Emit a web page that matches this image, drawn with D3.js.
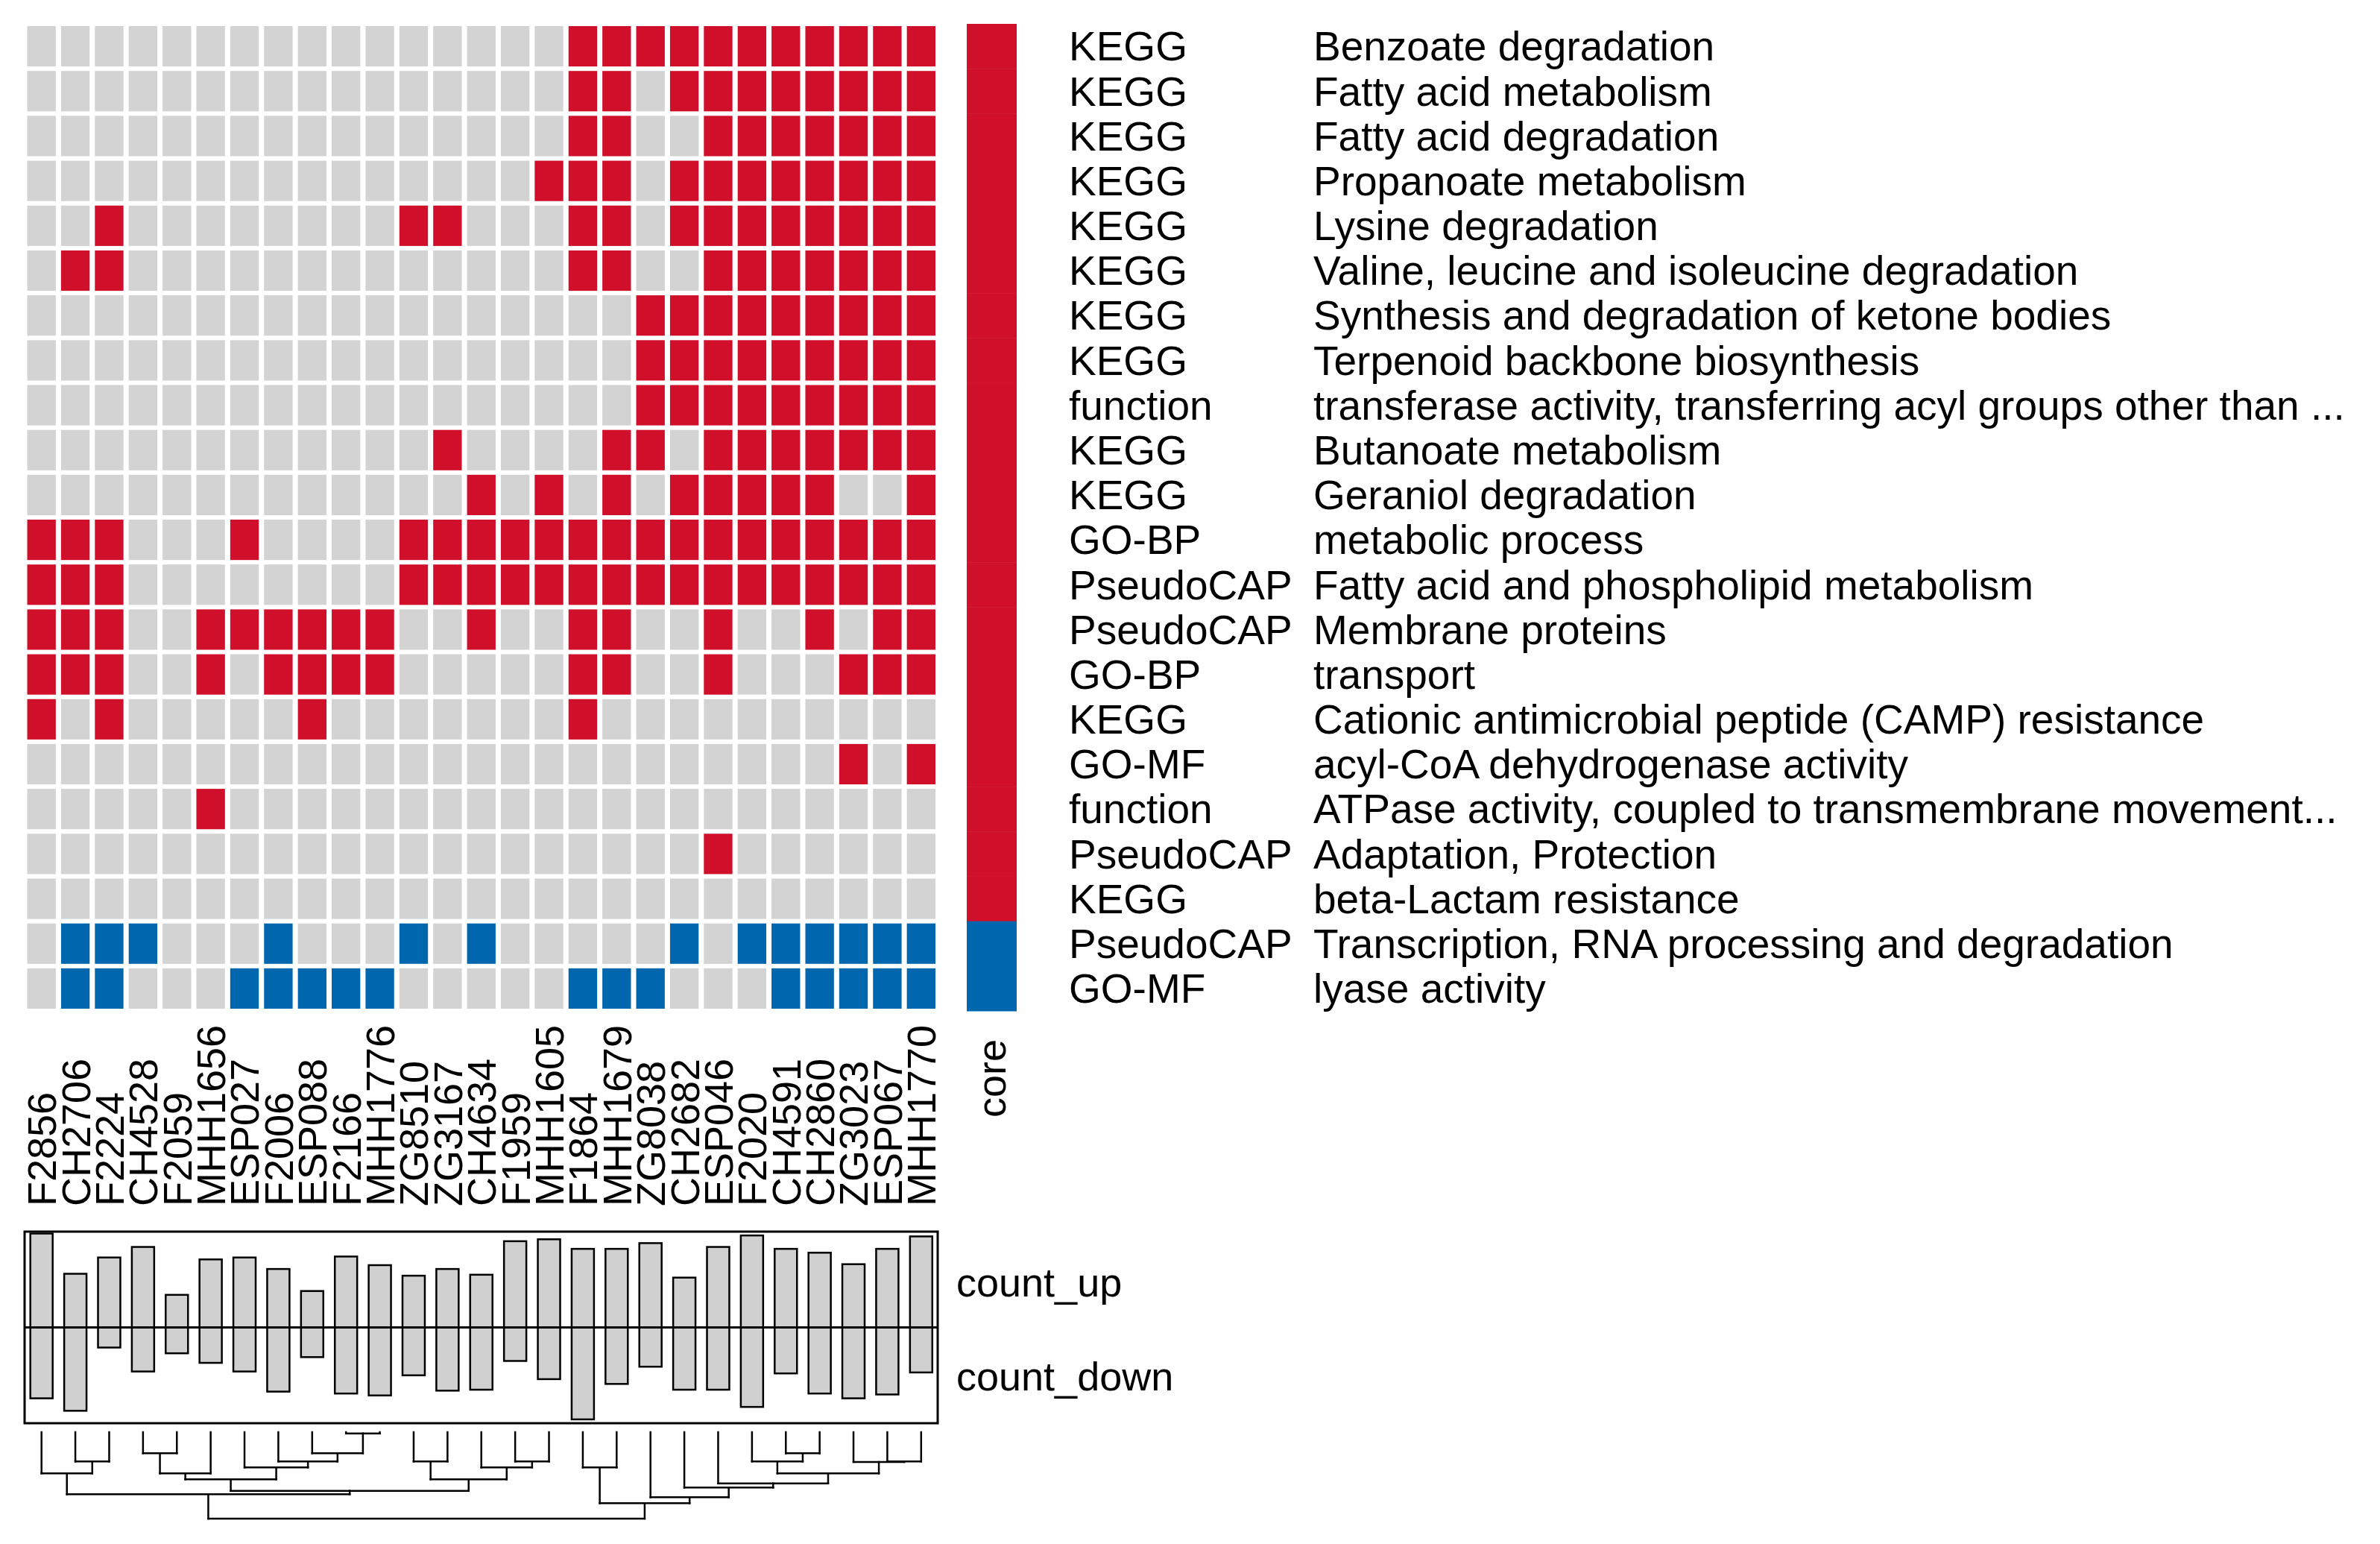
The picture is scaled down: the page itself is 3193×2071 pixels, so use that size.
<!DOCTYPE html>
<html>
<head>
<meta charset="utf-8">
<script src="https://cdn.jsdelivr.net/npm/d3@7"></script>
<style>
  html, body { margin: 0; padding: 0; background: #fff; }
  svg { display: block; }
  text { font-family: "Liberation Sans", Arial, Helvetica, sans-serif; fill: #000; }
</style>
</head>
<body>
<script>
// ---------------- DATA ----------------
const columns = ["F2856","CH2706","F2224","CH4528","F2059","MHH1656","ESP027","F2006","ESP088","F2166",
  "MHH1776","ZG8510","ZG3167","CH4634","F1959","MHH1605","F1864","MHH1679","ZG8038","CH2682",
  "ESP046","F2020","CH4591","CH2860","ZG3023","ESP067","MHH1770"];

const rowTypes = ["KEGG","KEGG","KEGG","KEGG","KEGG","KEGG","KEGG","KEGG","function","KEGG","KEGG",
  "GO-BP","PseudoCAP","PseudoCAP","GO-BP","KEGG","GO-MF","function","PseudoCAP","KEGG","PseudoCAP","GO-MF"];

const rowTerms = ["Benzoate degradation","Fatty acid metabolism","Fatty acid degradation","Propanoate metabolism",
  "Lysine degradation","Valine, leucine and isoleucine degradation","Synthesis and degradation of ketone bodies",
  "Terpenoid backbone biosynthesis","transferase activity, transferring acyl groups other than ...",
  "Butanoate metabolism","Geraniol degradation","metabolic process","Fatty acid and phospholipid metabolism",
  "Membrane proteins","transport","Cationic antimicrobial peptide (CAMP) resistance","acyl-CoA dehydrogenase activity",
  "ATPase activity, coupled to transmembrane movement...","Adaptation, Protection","beta-Lactam resistance",
  "Transcription, RNA processing and degradation","lyase activity"];

// core direction of each term
const coreStatus = ["up","up","up","up","up","up","up","up","up","up","up",
  "up","up","up","up","up","up","up","up","up","down","down"];

// 1 = term enriched in that strain (coloured by core direction), 0 = not
const cells = [
  [0,0,0,0,0,0,0,0,0,0,0,0,0,0,0,0,1,1,1,1,1,1,1,1,1,1,1],
  [0,0,0,0,0,0,0,0,0,0,0,0,0,0,0,0,1,1,0,1,1,1,1,1,1,1,1],
  [0,0,0,0,0,0,0,0,0,0,0,0,0,0,0,0,1,1,0,0,1,1,1,1,1,1,1],
  [0,0,0,0,0,0,0,0,0,0,0,0,0,0,0,1,1,1,0,1,1,1,1,1,1,1,1],
  [0,0,1,0,0,0,0,0,0,0,0,1,1,0,0,0,1,1,0,1,1,1,1,1,1,1,1],
  [0,1,1,0,0,0,0,0,0,0,0,0,0,0,0,0,1,1,0,0,1,1,1,1,1,1,1],
  [0,0,0,0,0,0,0,0,0,0,0,0,0,0,0,0,0,0,1,1,1,1,1,1,1,1,1],
  [0,0,0,0,0,0,0,0,0,0,0,0,0,0,0,0,0,0,1,1,1,1,1,1,1,1,1],
  [0,0,0,0,0,0,0,0,0,0,0,0,0,0,0,0,0,0,1,1,1,1,1,1,1,1,1],
  [0,0,0,0,0,0,0,0,0,0,0,0,1,0,0,0,0,1,1,0,1,1,1,1,1,1,1],
  [0,0,0,0,0,0,0,0,0,0,0,0,0,1,0,1,0,1,0,1,1,1,1,1,0,0,1],
  [1,1,1,0,0,0,1,0,0,0,0,1,1,1,1,1,1,1,1,1,1,1,1,1,1,1,1],
  [1,1,1,0,0,0,0,0,0,0,0,1,1,1,1,1,1,1,1,1,1,1,1,1,1,1,1],
  [1,1,1,0,0,1,1,1,1,1,1,0,0,1,0,0,1,1,0,0,1,0,0,1,0,1,1],
  [1,1,1,0,0,1,0,1,1,1,1,0,0,0,0,0,1,1,0,0,1,0,0,0,1,1,1],
  [1,0,1,0,0,0,0,0,1,0,0,0,0,0,0,0,1,0,0,0,0,0,0,0,0,0,0],
  [0,0,0,0,0,0,0,0,0,0,0,0,0,0,0,0,0,0,0,0,0,0,0,0,1,0,1],
  [0,0,0,0,0,1,0,0,0,0,0,0,0,0,0,0,0,0,0,0,0,0,0,0,0,0,0],
  [0,0,0,0,0,0,0,0,0,0,0,0,0,0,0,0,0,0,0,0,1,0,0,0,0,0,0],
  [0,0,0,0,0,0,0,0,0,0,0,0,0,0,0,0,0,0,0,0,0,0,0,0,0,0,0],
  [0,1,1,1,0,0,0,1,0,0,0,1,0,1,0,0,0,0,0,1,0,1,1,1,1,1,1],
  [0,1,1,0,0,0,1,1,1,1,1,0,0,0,0,0,1,1,1,0,0,0,1,1,1,1,1]
];

const countUp   = [98,56,73,84,34,71,73,61,38,74,65,54,61,55,90,92,82,82,88,52,84,96,82,78,66,82,95];
const countDown = [74,87,21,46,27,37,46,67,31,69,71,50,66,65,35,54,96,59,41,65,65,83,48,69,74,70,47];
const barLabels = ["count_up","count_down"];
const coreLabel = "core";

// hierarchical clustering of the strains: [left, right, height]; numbers = leaf index, "mK" = merge K
const dendroMerges = [
  [9, 10, 5],          // m0
  [1, 2, 118],         // m1
  [0, "m1", 166],      // m2
  [3, 4, 85],          // m3
  ["m3", 5, 166],      // m4
  [8, "m0", 85],       // m5
  [7, "m5", 118],      // m6
  [6, "m6", 142],      // m7
  ["m4", "m7", 190],   // m8
  [11, 12, 118],       // m9
  [14, 15, 118],       // m10
  [13, "m10", 142],    // m11
  ["m9", "m11", 190],  // m12
  ["m8", "m12", 236],  // m13
  ["m2", "m13", 250],  // m14
  [16, 17, 142],       // m15
  [22, 23, 85],        // m16
  [21, "m16", 118],    // m17
  [25, 26, 118],       // m18
  [24, "m18", 120],    // m19
  ["m17", "m19", 166], // m20
  [20, "m20", 206],    // m21
  [19, "m21", 223],    // m22
  [18, "m22", 262],    // m23
  ["m15", "m23", 286], // m24
  ["m14", "m24", 348]  // m25 (root)
];

// ---------------- LAYOUT ----------------
const W = 3193, H = 2071;
const RED = "#D0102A", BLUE = "#0066AE", GREY = "#D3D3D3", BARFILL = "#D0D0D0";
const FONT = 54;
const ROWFONT = 55;

const hm = { x0: 33, x1: 1258.5, y0: 32, y1: 1356 };

const svg = d3.select("body").append("svg")
  .attr("width", W).attr("height", H)
  .attr("viewBox", `0 0 ${W} ${H}`);
svg.append("rect").attr("width", W).attr("height", H).attr("fill", "#fff");

const colIdx = d3.range(columns.length);
const rowIdx = d3.range(rowTerms.length);

const x = d3.scaleBand().domain(colIdx).range([hm.x0, hm.x1]).paddingInner(0.155).paddingOuter(0.0775);
const xFull = d3.scaleBand().domain(colIdx).range([hm.x0, hm.x1]);
const y = d3.scaleBand().domain(rowIdx).range([hm.y0, hm.y1]).paddingInner(0.1).paddingOuter(0.05);
const yFull = d3.scaleBand().domain(rowIdx).range([hm.y0, hm.y1]);

const colorOf = (r, v) => v ? (coreStatus[r] === "up" ? RED : BLUE) : GREY;

// heatmap cells
const cellData = [];
cells.forEach((row, r) => row.forEach((v, c) => cellData.push({ r, c, v })));
svg.append("g").selectAll("rect").data(cellData).join("rect")
  .attr("x", d => x(d.c)).attr("y", d => y(d.r))
  .attr("width", x.bandwidth()).attr("height", y.bandwidth())
  .attr("fill", d => colorOf(d.r, d.v));

// core annotation
const coreX0 = 1297, coreX1 = 1364;
const coreColor = d3.scaleOrdinal().domain(["up","down"]).range([RED, BLUE]);
svg.append("g").selectAll("rect").data(rowIdx).join("rect")
  .attr("x", coreX0).attr("width", coreX1 - coreX0)
  .attr("y", r => yFull(r)).attr("height", yFull.bandwidth() + 0.5)
  .attr("fill", r => coreColor(coreStatus[r]));

svg.append("text")
  .attr("transform", `translate(${(coreX0 + coreX1) / 2},1394) rotate(-90)`)
  .attr("text-anchor", "end").attr("dy", "0.35em")
  .attr("font-size", FONT).text(coreLabel);

// row labels
const typeX = 1434, termX = 1762;
const rl = svg.append("g");
rl.selectAll("text.type").data(rowIdx).join("text").attr("class", "type")
  .attr("x", typeX).attr("y", r => yFull(r) + yFull.bandwidth() / 2)
  .attr("dy", "0.35em").attr("font-size", ROWFONT).text(r => rowTypes[r]);
rl.selectAll("text.term").data(rowIdx).join("text").attr("class", "term")
  .attr("x", termX).attr("y", r => yFull(r) + yFull.bandwidth() / 2)
  .attr("dy", "0.35em").attr("font-size", ROWFONT).text(r => rowTerms[r]);

// column labels (rotated, bottom aligned)
const colLabelBottom = 1618;
svg.append("g").selectAll("text").data(colIdx).join("text")
  .attr("transform", c => `translate(${xFull(c) + xFull.bandwidth() / 2},${colLabelBottom}) rotate(-90)`)
  .attr("text-anchor", "start").attr("dy", "0.36em")
  .attr("font-size", FONT).text(c => columns[c]);

// ---------------- BAR ANNOTATION ----------------
const bar = { x0: 33, x1: 1258, y0: 1652, y1: 1909 };
const yBar = d3.scaleLinear().domain([-100, 100]).range([bar.y1, bar.y0]);
const bw = xFull.bandwidth() * 0.66;
const gb = svg.append("g");
gb.selectAll("rect.up").data(colIdx).join("rect").attr("class", "up")
  .attr("x", c => xFull(c) + (xFull.bandwidth() - bw) / 2).attr("width", bw)
  .attr("y", c => yBar(countUp[c])).attr("height", c => yBar(0) - yBar(countUp[c]))
  .attr("fill", BARFILL).attr("stroke", "#000").attr("stroke-width", 2.5);
gb.selectAll("rect.down").data(colIdx).join("rect").attr("class", "down")
  .attr("x", c => xFull(c) + (xFull.bandwidth() - bw) / 2).attr("width", bw)
  .attr("y", yBar(0)).attr("height", c => yBar(-countDown[c]) - yBar(0))
  .attr("fill", BARFILL).attr("stroke", "#000").attr("stroke-width", 2.5);
gb.append("line").attr("x1", bar.x0).attr("x2", bar.x1)
  .attr("y1", yBar(0)).attr("y2", yBar(0)).attr("stroke", "#000").attr("stroke-width", 3);
gb.append("rect").attr("x", bar.x0).attr("y", bar.y0)
  .attr("width", bar.x1 - bar.x0).attr("height", bar.y1 - bar.y0)
  .attr("fill", "none").attr("stroke", "#000").attr("stroke-width", 3);

svg.append("g").selectAll("text").data(barLabels).join("text")
  .attr("x", 1283).attr("y", (d, i) => i === 0 ? 1720 : 1846)
  .attr("dy", "0.35em").attr("font-size", FONT).text(d => d);

// ---------------- DENDROGRAM ----------------
const yDen = d3.scaleLinear().domain([0, 348]).range([1921, 2037]);
const nodes = {};
const nodeOf = k => (typeof k === "number")
  ? { x: xFull(k) + xFull.bandwidth() / 2, h: 0 }
  : nodes[k];
const segs = [];
dendroMerges.forEach(([a, b, h], i) => {
  const A = nodeOf(a), B = nodeOf(b);
  segs.push([A.x, yDen(A.h), A.x, yDen(h)]);
  segs.push([B.x, yDen(B.h), B.x, yDen(h)]);
  segs.push([A.x, yDen(h), B.x, yDen(h)]);
  nodes["m" + i] = { x: (A.x + B.x) / 2, h };
});
svg.append("g").selectAll("line").data(segs).join("line")
  .attr("x1", d => d[0]).attr("y1", d => d[1]).attr("x2", d => d[2]).attr("y2", d => d[3])
  .attr("stroke", "#000").attr("stroke-width", 2.5).attr("stroke-linecap", "square");
</script>
</body>
</html>
